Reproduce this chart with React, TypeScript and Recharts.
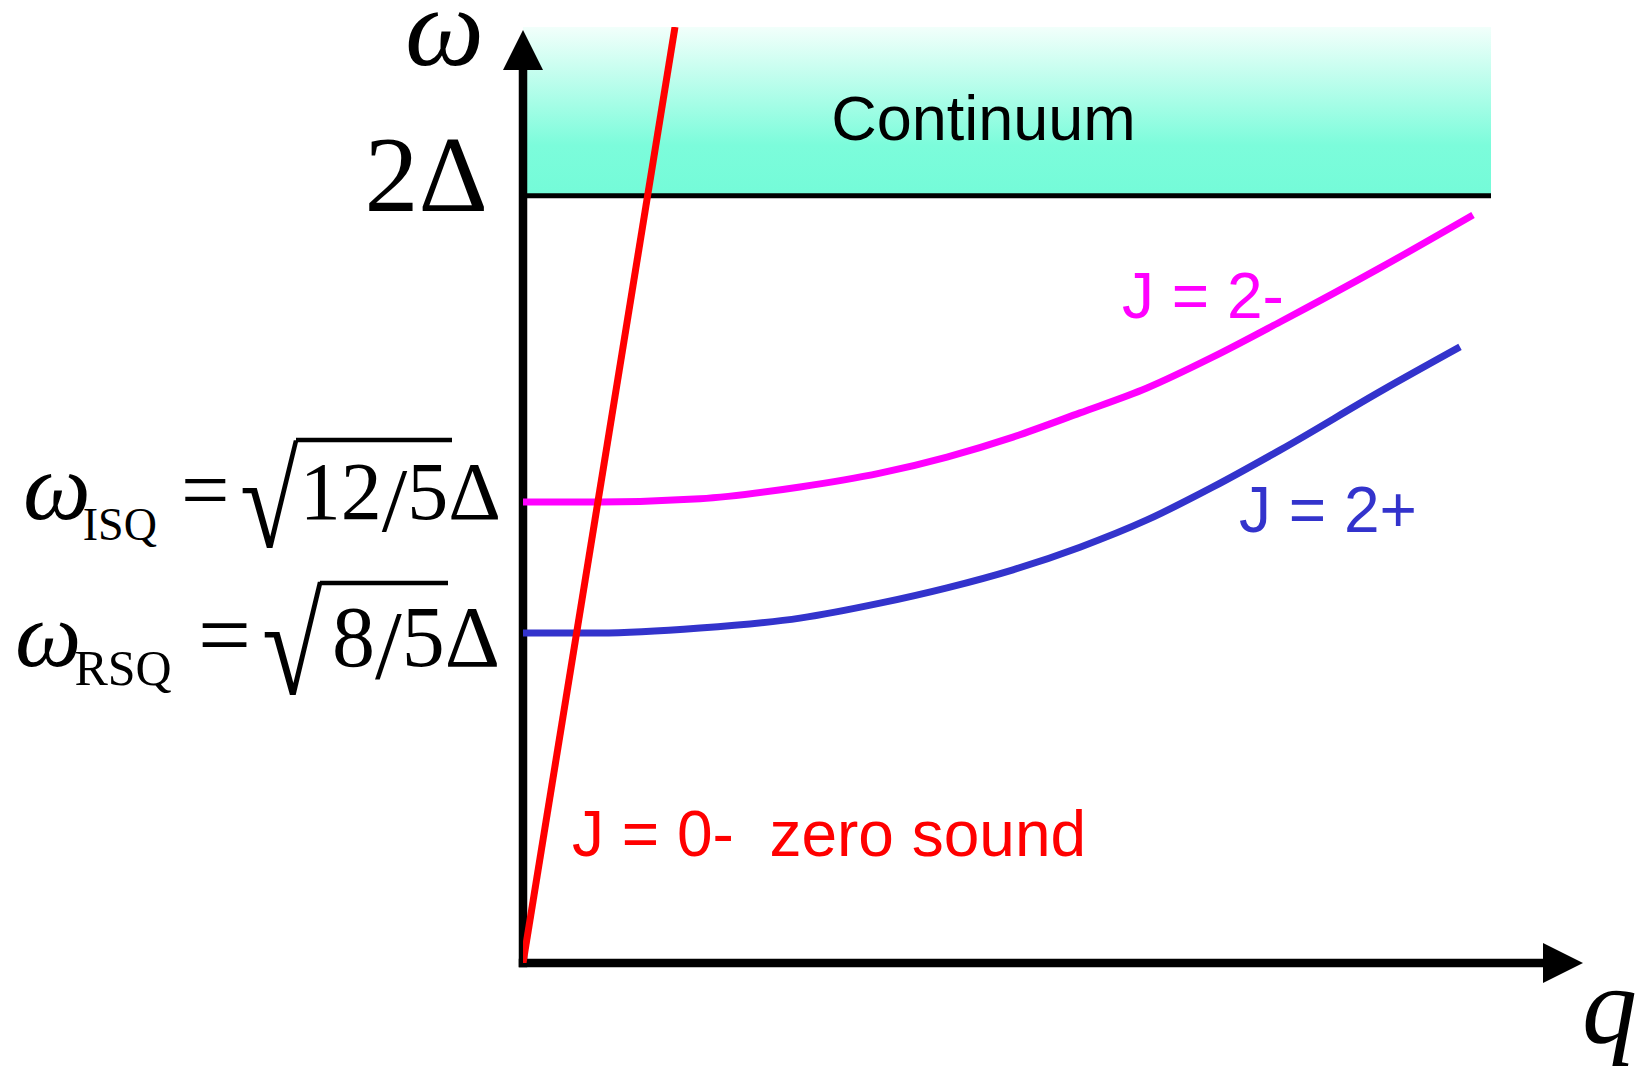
import React from 'react';
import {
  ComposedChart,
  Line,
  XAxis,
  YAxis,
  ReferenceArea,
  ReferenceLine,
  ReferenceDot,
} from 'recharts';

// Collective modes of a paired Fermi liquid: frequency ω (in units of Δ) against momentum q.

// Axis extents
const Q_MAX = 10.6;
const W_MAX = 2.44;
const Q_ARROW_TIP = 10.6;
const W_ARROW_TIP = 2.432;

// Pair-breaking continuum starts at 2Δ
const GAP_EDGE = 2;
const CONTINUUM_Q_END = 9.68;

// J = 0- zero sound (linear)
const zeroSoundQ = [0, 1.52];
const zeroSoundW = [0, 2.44];

// J = 2- branch (imaginary squashing mode)
const j2MinusQ = [0, 0.77, 1.77, 2.77, 3.57, 4.24, 4.9, 5.57, 6.24, 6.9, 7.57, 8.57, 9.5];
const j2MinusW = [1.202, 1.202, 1.21, 1.241, 1.277, 1.319, 1.371, 1.434, 1.499, 1.58, 1.671, 1.812, 1.95];

// J = 2+ branch (real squashing mode)
const j2PlusQ = [0, 0.77, 1.77, 2.77, 3.57, 4.24, 4.9, 5.57, 6.24, 6.9, 7.57, 8.6, 9.37];
const j2PlusW = [0.86, 0.86, 0.873, 0.899, 0.938, 0.978, 1.025, 1.084, 1.155, 1.241, 1.337, 1.494, 1.606];

// Tick values on the ω axis and their symbolic labels
const ISQ_LEVEL = j2MinusW[0];
const RSQ_LEVEL = j2PlusW[0];
const yTicks = [RSQ_LEVEL, ISQ_LEVEL, GAP_EDGE];
const modeLevels = [ISQ_LEVEL, RSQ_LEVEL];
const modeSubscripts = ['ISQ', 'RSQ'];
const modeRadicands = [['12', '5'], ['8', '5']];
const gapLabel = '2Δ';

// Text labels
const continuumText = 'Continuum';
const j2MinusText = 'J = 2-';
const j2PlusText = 'J = 2+';
const zeroSoundText = 'J = 0-  zero sound';
const omegaAxisText = 'ω';
const qAxisText = 'q';

const COLORS = {
  zeroSound: '#ff0000',
  j2Minus: '#ff00ff',
  j2Plus: '#3333cc',
  axis: '#000000',
};

const SERIF = '"Liberation Serif", "Times New Roman", Times, serif';
const SANS = '"Liberation Sans", Arial, Helvetica, sans-serif';

const toPoints = (qs: number[], ws: number[]) => qs.map((q, i) => ({ q, w: ws[i] }));

const zeroSoundData = toPoints(zeroSoundQ, zeroSoundW);
const j2MinusData = toPoints(j2MinusQ, j2MinusW);
const j2PlusData = toPoints(j2PlusQ, j2PlusW);

// Per-label layout of the ω-axis formulas, offsets relative to the tick anchor
const formulaLayout = [
  {
    base: 17, omegaDx: -500, omegaSize: 96, subSize: 46, subDy: 21, subDx: -8,
    eqDx: -342, eqSize: 86, radDx: -283, radSize: 135, radBase: 45, radScaleX: 0.79,
    barX1: -227, barX2: -71, barDy: -79, bodyDx: -22, bodySize: 82, slashScale: 1.12,
  },
  {
    base: 33, omegaDx: -508, omegaSize: 94, subSize: 50, subDy: 19, subDx: -7,
    eqDx: -325, eqSize: 94, radDx: -261, radSize: 142, radBase: 61, radScaleX: 0.78,
    barX1: -203, barX2: -75, barDy: -83, bodyDx: -23, bodySize: 86, slashScale: 1.12,
  },
];

function OmegaTick(props: any) {
  const { x, y, payload } = props;
  const v = payload?.value;
  if (v === GAP_EDGE) {
    return (
      <text x={x - 35} y={y + 15} textAnchor="end" fontFamily={SERIF} fontSize={108} fill="#000">
        {gapLabel}
      </text>
    );
  }
  const idx = modeLevels.indexOf(v);
  if (idx < 0) return <g />;
  const s = formulaLayout[idx];
  const b = y + s.base;
  const [num, den] = modeRadicands[idx];
  return (
    <g>
      <text x={x + s.omegaDx} y={b} fontFamily={SERIF} fill="#000">
        <tspan fontStyle="italic" fontSize={s.omegaSize}>ω</tspan>
        <tspan fontSize={s.subSize} dy={s.subDy} dx={s.subDx}>{modeSubscripts[idx]}</tspan>
      </text>
      <text x={x + s.eqDx} y={b} fontFamily={SERIF} fontSize={s.eqSize} fill="#000">=</text>
      <text
        transform={`translate(${x + s.radDx}, ${y + s.radBase}) scale(${s.radScaleX}, 1)`}
        x={0}
        y={0}
        fontFamily={SERIF}
        fontSize={s.radSize}
        fill="#000"
      >
        √
      </text>
      <line x1={x + s.barX1} x2={x + s.barX2} y1={b + s.barDy} y2={b + s.barDy} stroke="#000" strokeWidth={4.5} />
      <text x={x + s.bodyDx} y={b} textAnchor="end" fontFamily={SERIF} fontSize={s.bodySize} fill="#000">
        {num}
        <tspan fontSize={s.bodySize * s.slashScale} dy={12}>/</tspan>
        <tspan dy={-12}>{den}Δ</tspan>
      </text>
    </g>
  );
}

// Axis line with a solid triangular head at its far end
function ArrowShape(props: any) {
  const { x1, y1, x2, y2 } = props;
  const dx = x2 - x1;
  const dy = y2 - y1;
  const len = Math.sqrt(dx * dx + dy * dy) || 1;
  const ux = dx / len;
  const uy = dy / len;
  const head = 40;
  const half = 20;
  const bx = x2 - ux * head;
  const by = y2 - uy * head;
  const px = -uy;
  const py = ux;
  const pts = `${x2},${y2} ${bx + px * half},${by + py * half} ${bx - px * half},${by - py * half}`;
  return (
    <g>
      <line x1={x1} y1={y1} x2={bx + ux * 2} y2={by + uy * 2} stroke={COLORS.axis} strokeWidth={8.5} strokeLinecap="square" />
      <polygon points={pts} fill={COLORS.axis} />
    </g>
  );
}

type TextOpts = {
  size: number;
  color: string;
  family: string;
  italic?: boolean;
  anchor?: 'start' | 'middle' | 'end';
  dx?: number;
  dy?: number;
};

const textLabel = (text: string, o: TextOpts) => (props: any) => {
  const vb = props.viewBox || { x: props.x, y: props.y };
  return (
    <text
      x={vb.x + (o.dx || 0)}
      y={vb.y + (o.dy || 0)}
      fontSize={o.size}
      fill={o.color}
      fontFamily={o.family}
      fontStyle={o.italic ? 'italic' : 'normal'}
      textAnchor={o.anchor || 'start'}
      style={{ whiteSpace: 'pre' }}
    >
      {text}
    </text>
  );
};

export default function App() {
  return (
    <div style={{ position: 'absolute', left: 0, top: 0, background: '#fff' }}>
      <ComposedChart width={1637} height={1070} margin={{ top: 27, right: 54, bottom: 0, left: 0 }}>
        <defs>
          <linearGradient id="continuumFill" x1="0" y1="0" x2="0" y2="1">
            <stop offset="0%" stopColor="#f2fffb" />
            <stop offset="70%" stopColor="#7cfcdb" />
            <stop offset="100%" stopColor="#74fbd8" />
          </linearGradient>
        </defs>
        <XAxis
          type="number"
          dataKey="q"
          domain={[0, Q_MAX]}
          allowDataOverflow
          height={107}
          tick={false}
          axisLine={false}
          tickLine={false}
        />
        <YAxis
          type="number"
          dataKey="w"
          domain={[0, W_MAX]}
          allowDataOverflow
          width={523}
          ticks={yTicks}
          interval={0}
          tickSize={0}
          tickMargin={0}
          axisLine={false}
          tickLine={false}
          tick={(p: any) => <OmegaTick {...p} />}
        />
        <ReferenceArea
          x1={0}
          x2={CONTINUUM_Q_END}
          y1={GAP_EDGE}
          y2={W_MAX}
          fill="url(#continuumFill)"
          fillOpacity={1}
          stroke="none"
          ifOverflow="visible"
        />
        <ReferenceLine
          segment={[{ x: 0, y: GAP_EDGE }, { x: CONTINUUM_Q_END, y: GAP_EDGE }]}
          stroke="#000"
          strokeWidth={5}
          ifOverflow="visible"
        />
        <ReferenceLine
          segment={[{ x: 0, y: 0 }, { x: Q_ARROW_TIP, y: 0 }]}
          ifOverflow="visible"
          shape={(p: any) => <ArrowShape {...p} />}
        />
        <ReferenceLine
          segment={[{ x: 0, y: 0 }, { x: 0, y: W_ARROW_TIP }]}
          ifOverflow="visible"
          shape={(p: any) => <ArrowShape {...p} />}
        />
        <Line
          data={j2MinusData}
          dataKey="w"
          type="monotone"
          stroke={COLORS.j2Minus}
          strokeWidth={7}
          dot={false}
          activeDot={false}
          isAnimationActive={false}
        />
        <Line
          data={j2PlusData}
          dataKey="w"
          type="monotone"
          stroke={COLORS.j2Plus}
          strokeWidth={7}
          dot={false}
          activeDot={false}
          isAnimationActive={false}
        />
        <Line
          data={zeroSoundData}
          dataKey="w"
          type="linear"
          stroke={COLORS.zeroSound}
          strokeWidth={7}
          dot={false}
          activeDot={false}
          isAnimationActive={false}
        />
        <ReferenceDot
          x={4.605}
          y={2.145}
          r={0}
          ifOverflow="visible"
          label={{ content: textLabel(continuumText, { size: 63, color: '#000', family: SANS, anchor: 'middle' }) }}
        />
        <ReferenceDot
          x={5.99}
          y={1.681}
          r={0}
          ifOverflow="visible"
          label={{ content: textLabel(j2MinusText, { size: 64, color: COLORS.j2Minus, family: SANS }) }}
        />
        <ReferenceDot
          x={7.16}
          y={1.124}
          r={0}
          ifOverflow="visible"
          label={{ content: textLabel(j2PlusText, { size: 64, color: COLORS.j2Plus, family: SANS }) }}
        />
        <ReferenceDot
          x={0.49}
          y={0.279}
          r={0}
          ifOverflow="visible"
          label={{ content: textLabel(zeroSoundText, { size: 64, color: COLORS.zeroSound, family: SANS }) }}
        />
        <ReferenceDot
          x={0}
          y={W_ARROW_TIP}
          r={0}
          ifOverflow="visible"
          label={{ content: textLabel(omegaAxisText, { size: 112, color: '#000', family: SERIF, italic: true, anchor: 'end', dx: -39, dy: 35 }) }}
        />
        <ReferenceDot
          x={Q_ARROW_TIP}
          y={0}
          r={0}
          ifOverflow="visible"
          label={{ content: textLabel(qAxisText, { size: 110, color: '#000', family: SERIF, italic: true, dx: -1, dy: 80 }) }}
        />
      </ComposedChart>
    </div>
  );
}
